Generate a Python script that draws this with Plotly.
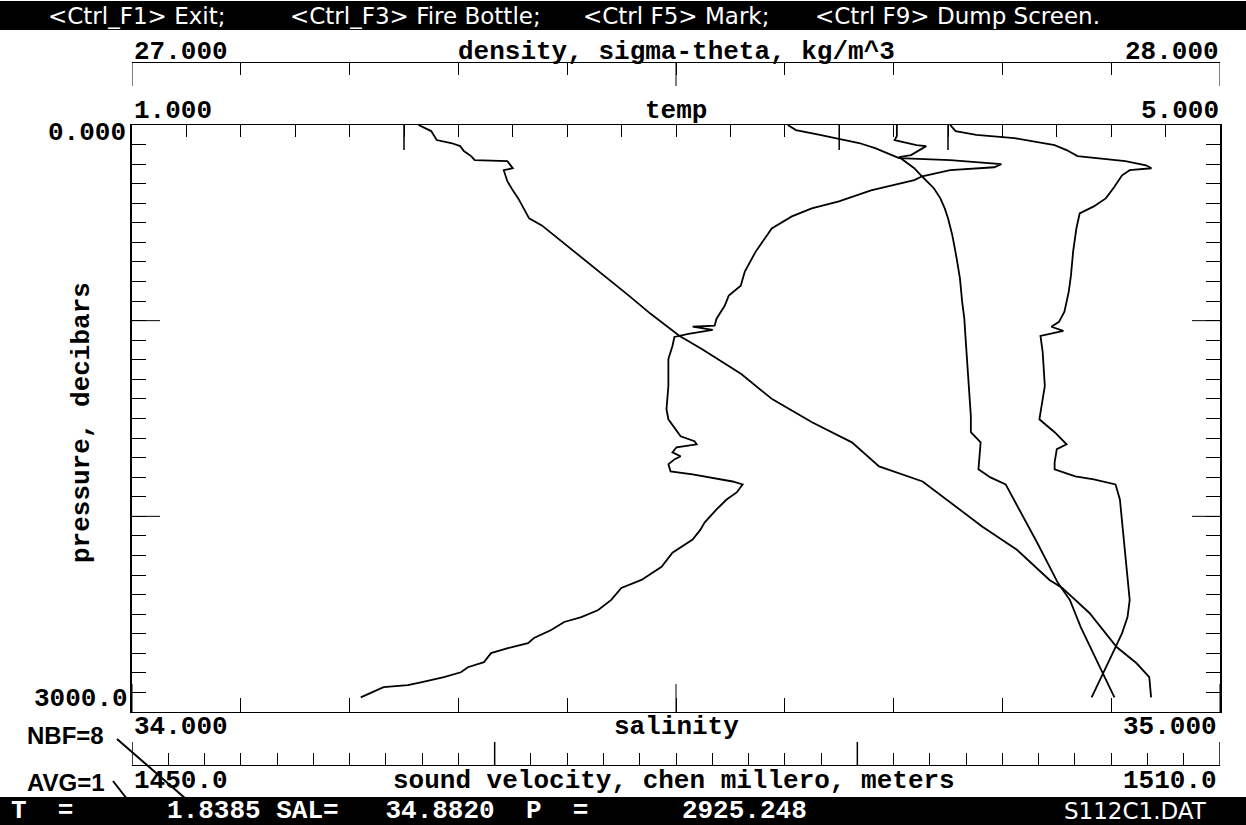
import plotly.graph_objects as go

# ---------------- data ----------------
# temperature profile
p_temp = [0, 26, 51, 92, 118, 154, 169, 180, 200, 216, 231, 262, 282, 334, 390, 426, 467, 529, 647, 749,
          821, 872, 924, 990, 1026, 1031, 1047, 1067, 1083, 1129, 1196, 1334, 1452, 1504, 1591, 1616, 1632, 1647, 1673, 1693,
          1709, 1734, 1770, 1786, 1801, 1822, 1837, 1878, 1914, 1965, 2032, 2068, 2119, 2186, 2258, 2325, 2366, 2427, 2479, 2515,
          2540, 2581, 2622, 2648, 2674, 2699, 2745, 2771, 2797, 2822, 2848, 2863, 2873, 2904, 2925]
temp = [3.411, 3.441, 3.529, 3.673, 3.732, 3.791, 3.820, 4.008, 4.196, 4.170, 4.008, 3.905, 3.876, 3.717, 3.599, 3.499, 3.426, 3.352, 3.293, 3.253,
        3.238, 3.194, 3.179, 3.149, 3.142, 3.061, 3.135, 3.046, 2.994, 2.987, 2.972, 2.972, 2.965, 2.972, 3.017, 3.068, 3.076, 3.002, 2.987, 3.017,
        2.994, 2.972, 2.980, 3.061, 3.127, 3.208, 3.245, 3.223, 3.186, 3.149, 3.105, 3.090, 3.061, 2.987, 2.947, 2.873, 2.799, 2.762, 2.714, 2.652,
        2.589, 2.541, 2.478, 2.456, 2.382, 2.320, 2.294, 2.235, 2.209, 2.147, 2.062, 2.014, 1.925, 1.877, 1.841]

# density (sigma-theta) profile
p_dens = [0, 56, 77, 92, 103, 108, 133, 154, 164, 221, 262, 323, 375, 426, 477, 564, 683, 785, 903, 990,
          1078, 1160, 1334, 1488, 1570, 1622, 1760, 1801, 1837, 1950, 2135, 2340, 2427, 2566, 2735, 2822, 2925]
sigma = [27.703, 27.703, 27.701, 27.712, 27.721, 27.730, 27.723, 27.716, 27.705, 27.719, 27.726, 27.737, 27.743, 27.747, 27.750, 27.754, 27.758, 27.761, 27.763, 27.765,
         27.766, 27.767, 27.769, 27.771, 27.771, 27.780, 27.778, 27.789, 27.803, 27.814, 27.832, 27.851, 27.862, 27.872, 27.887, 27.894, 27.903]

# salinity profile
p_sal = [0, 31, 51, 67, 103, 128, 159, 169, 185, 206, 221, 231, 257, 323, 375, 416, 452, 529, 647, 770,
         852, 954, 1006, 1031, 1052, 1078, 1160, 1334, 1488, 1504, 1570, 1632, 1657, 1724, 1760, 1796, 1811, 1837, 1914, 2135,
         2427, 2515, 2597, 2668, 2751, 2822, 2925]
sal = [34.752, 34.757, 34.776, 34.811, 34.848, 34.859, 34.869, 34.884, 34.913, 34.932, 34.937, 34.917, 34.910, 34.902, 34.895, 34.884, 34.871, 34.868, 34.865, 34.863,
       34.861, 34.857, 34.852, 34.845, 34.856, 34.835, 34.837, 34.839, 34.835, 34.834, 34.848, 34.859, 34.850, 34.848, 34.848, 34.867, 34.884, 34.904, 34.908, 34.912,
       34.917, 34.915, 34.910, 34.904, 34.897, 34.891, 34.882]

# sound velocity (Chen-Millero) profile
p_sv = [0, 31, 77, 92, 108, 133, 159, 180, 185, 221, 231, 287, 334, 375, 426, 477, 513, 595, 718, 801,
        872, 965, 1078, 1144, 1273, 1401, 1519, 1622, 1745, 1822, 1914, 2053, 2171, 2325, 2366, 2494, 2668, 2751, 2822, 2925]
sv = [1465.8, 1466.5, 1466.8, 1467.6, 1468.1, 1468.3, 1468.7, 1468.9, 1470.7, 1471.0, 1470.5, 1470.7, 1471.0, 1471.3, 1471.6, 1471.9, 1472.6, 1473.7, 1475.3, 1476.4,
      1477.4, 1478.6, 1480.2, 1481.4, 1483.6, 1485.3, 1487.5, 1489.7, 1491.2, 1493.6, 1494.9, 1496.9, 1498.8, 1500.6, 1501.3, 1502.8, 1504.3, 1505.4, 1506.1, 1506.2]

# axis ranges, long tick positions, labels
temp_range = [1.0, 5.0]
dens_range = [27.0, 28.0]
sal_range = [34.0, 35.0]
sv_range = [1450.0, 1510.0]
p_range = [3000, 0]
temp_long = [2.0, 3.6, 4.0]
dens_long = [27.0, 27.5, 28.0]
sal_long = [34.0, 34.5, 35.0]
sv_long = [1450, 1470, 1490, 1510]
p_long = [1000, 2000]

top_menu = [("&lt;Ctrl_F1&gt; Exit;", 47), ("&lt;Ctrl_F3&gt; Fire Bottle;", 289),
            ("&lt;Ctrl F5&gt; Mark;", 582), ("&lt;Ctrl F9&gt; Dump Screen.", 814)]
status_line = "T  =      1.8385 SAL=   34.8820  P  =      2925.248"
file_name = "S112C1.DAT"

# ---------------- layout helpers (pixel -> paper) ----------------
W, H = 1246, 825
L, R = 132, 1220          # plot box left/right
PT, PB = 125, 712         # plot box top/bottom
AT, AB = 62, 765          # density axis line / sound velocity axis line


def px(x):
    return (x - L) / (R - L)


def py(y):
    return (AB - y) / (AB - AT)


MONO = "Liberation Mono"
SANS = "DejaVu Sans"

fig = go.Figure()
line_style = dict(color="black", width=1.8)
fig.add_trace(go.Scatter(x=temp, y=p_temp, xaxis="x", yaxis="y", mode="lines", line=line_style, name="temp"))
fig.add_trace(go.Scatter(x=sigma, y=p_dens, xaxis="x2", yaxis="y", mode="lines", line=line_style, name="density"))
fig.add_trace(go.Scatter(x=sal, y=p_sal, xaxis="x3", yaxis="y", mode="lines", line=line_style, name="salinity"))
fig.add_trace(go.Scatter(x=sv, y=p_sv, xaxis="x4", yaxis="y", mode="lines", line=line_style, name="sound velocity"))

common = dict(showgrid=False, zeroline=False, showticklabels=False, showline=True,
              linecolor="black", linewidth=1, ticks="inside", tickcolor="black", tickwidth=1,
              fixedrange=True)

fig.update_layout(
    width=W, height=H,
    margin=dict(l=L, r=W - R, t=AT, b=H - AB, pad=0),
    paper_bgcolor="white", plot_bgcolor="white",
    showlegend=False,
    xaxis=dict(range=temp_range, domain=[0, 1], anchor="y", side="top",
               tick0=1, dtick=0.2, ticklen=12, **common),
    xaxis2=dict(range=dens_range, anchor="free", position=1, side="top", overlaying="x",
                tick0=27, dtick=0.1, ticklen=12, **common),
    xaxis3=dict(range=sal_range, anchor="y", side="bottom", overlaying="x",
                tick0=34, dtick=0.1, ticklen=14, **common),
    xaxis4=dict(range=sv_range, anchor="free", position=0, side="bottom", overlaying="x",
                tick0=1450, dtick=2, ticklen=12, **common),
    yaxis=dict(range=p_range, domain=[py(PB), py(PT)], anchor="x", mirror="ticks",
               tick0=0, dtick=100, ticklen=14, **{**common, "linewidth": 1.5}),
)

shapes = []
# long ticks
for v in temp_long:
    shapes.append(dict(type="line", xref="x", yref="paper", x0=v, x1=v, y0=py(PT), y1=py(PT + 25),
                       line=dict(color="black", width=1.5)))
for v in dens_long:
    shapes.append(dict(type="line", xref="x2", yref="paper", x0=v, x1=v, y0=py(AT), y1=py(AT + 24),
                       line=dict(color="black", width=1)))
for v in sal_long:
    shapes.append(dict(type="line", xref="x3", yref="paper", x0=v, x1=v, y0=py(PB), y1=py(PB - 28),
                       line=dict(color="black", width=1)))
for v in sv_long:
    shapes.append(dict(type="line", xref="x4", yref="paper", x0=v, x1=v, y0=py(AB), y1=py(AB - 23),
                       line=dict(color="black", width=1.5)))
for v in p_long:
    shapes.append(dict(type="line", xref="paper", yref="y", x0=0, x1=28 / (R - L), y0=v, y1=v,
                       line=dict(color="black", width=1)))
    shapes.append(dict(type="line", xref="paper", yref="y", x0=1 - 28 / (R - L), x1=1, y0=v, y1=v,
                       line=dict(color="black", width=1)))
# top and bottom black bars
shapes.append(dict(type="rect", xref="paper", yref="paper", x0=px(0), x1=px(W), y0=py(30), y1=py(1),
                   fillcolor="black", line=dict(width=0)))
shapes.append(dict(type="rect", xref="paper", yref="paper", x0=px(0), x1=px(W), y0=py(H), y1=py(797),
                   fillcolor="black", line=dict(width=0)))
# NBF / AVG pointer lines
shapes.append(dict(type="line", xref="paper", yref="paper", x0=px(117), y0=py(739), x1=px(186), y1=py(799),
                   line=dict(color="black", width=2)))
shapes.append(dict(type="line", xref="paper", yref="paper", x0=px(113), y0=py(781), x1=px(127), y1=py(799),
                   line=dict(color="black", width=2)))
fig.update_layout(shapes=shapes)

ann = []


def label(text, x, y, xanchor="left", size=26, family=MONO, color="black", bold=True, angle=0):
    t = f"<b>{text}</b>" if bold else text
    ann.append(dict(text=t, x=px(x), y=py(y), xref="paper", yref="paper", xanchor=xanchor, yanchor="middle",
                    showarrow=False, textangle=angle, borderpad=0,
                    font=dict(family=family, size=size, color=color)))


# axis end labels and titles
label("27.000", L + 1, 52)
label("density, sigma-theta, kg/m^3", 676, 52, "center")
label("28.000", R, 52, "right")
label("1.000", L + 1, 111)
label("temp", 676, 111, "center")
label("5.000", R, 111, "right")
label("0.000", 127, 133, "right")
label("3000.0", 129, 699, "right")
label("pressure, decibars", 82, 423, "center", angle=-90)
label("34.000", L + 1, 727)
label("salinity", 676, 727, "center")
label("35.000", R - 2, 727, "right")
label("1450.0", L + 1, 781)
label("sound velocity, chen millero, meters", 674, 781, "center")
label("1510.0", R - 2, 781, "right")

# top menu bar
for txt, x in top_menu:
    label(txt, x, 16, size=23, family=SANS, color="white", bold=False)
# status bar
label(status_line.replace(" ", "\u00a0"), 10, 811, color="white")
label(file_name, 1063, 811, size=23, family=SANS, color="white", bold=False)
# NBF / AVG
label("NBF=8", 26, 735, size=24, family="Liberation Sans")
label("AVG=1", 26, 782, size=24, family="Liberation Sans")

fig.update_layout(annotations=ann)
fig.write_html("out.html")
